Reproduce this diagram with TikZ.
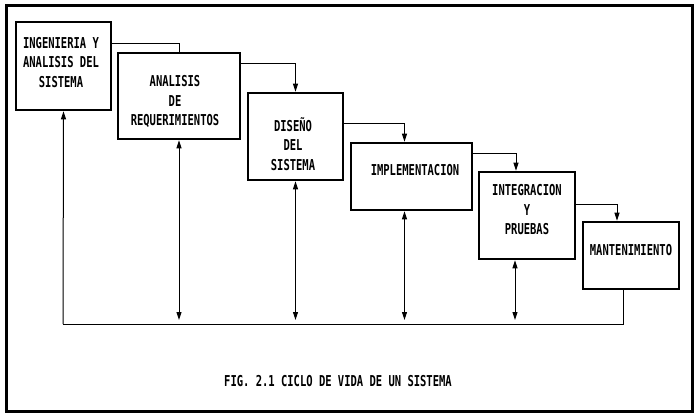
\documentclass[tikz,border=0pt]{standalone}
\usepackage{fontspec}
\newfontfamily\boxfont[FakeStretch=0.7]{DejaVu Sans Mono}
\usetikzlibrary{arrows.meta}
\begin{document}
\begin{tikzpicture}[x=1pt,y=-1pt,
  box/.style={draw, line width=2.6pt, inner sep=0pt},
  lbl/.style={font=\boxfont\bfseries\fontsize{15}{19.5}\selectfont, align=center, inner sep=0pt},
  conn/.style={line width=1pt},
  tip/.style={-{Triangle[length=8pt,width=5pt]}},
  both/.style={{Triangle[length=8pt,width=5pt]}-{Triangle[length=8pt,width=5pt]}}]
\useasboundingbox (0,0) rectangle (696,414);
\draw[line width=3pt] (6,6) rectangle (692,411);
% boxes
\node[box, minimum width=95pt, minimum height=88pt] (b1) at (63.5,66) {};
\node[box, minimum width=122pt, minimum height=86pt] (b2) at (179,96) {};
\node[box, minimum width=95pt, minimum height=87pt] (b3) at (295.5,136.5) {};
\node[box, minimum width=121pt, minimum height=67pt] (b4) at (411.5,176.5) {};
\node[box, minimum width=96pt, minimum height=87pt] (b5) at (527,215.5) {};
\node[box, minimum width=96pt, minimum height=67pt] (b6) at (631,255.5) {};
% labels
\node[lbl] (t1) at (61,62.5) {INGENIERIA Y\\ANALISIS DEL\\SISTEMA};
\node[lbl] (t2) at (175,101.5) {ANALISIS\\DE\\REQUERIMIENTOS};
\node[lbl] (t3) at (293,144) {DISEÑO\\DEL\\SISTEMA};
\node[lbl] (t4) at (415,170) {IMPLEMENTACION};
\node[lbl] (t5) at (527,210) {INTEGRACION\\Y\\PRUEBAS};
\node[lbl] (t6) at (631,250) {MANTENIMIENTO};
\node[lbl] (cap) at (338,381) {FIG. 2.1 CICLO DE VIDA DE UN SISTEMA};
% forward connectors
\draw[conn] ([yshift=-23pt]b1.north east) -| (b2.north);
\draw[conn,tip] ([yshift=-12pt]b2.north east) -| (b3.north);
\draw[conn,tip] ([yshift=-32pt]b3.north east) -| ([xshift=-7pt]b4.north);
\draw[conn,tip] ([yshift=-12pt]b4.north east) -| ([xshift=-11pt]b5.north);
\draw[conn,tip] ([yshift=-34pt]b5.north east) -| ([xshift=-14pt]b6.north);
% feedback
\coordinate (c0) at (63,324);
\draw[conn] ([xshift=-8pt]b6.south) |- (c0);
\draw[conn,tip] (c0) -- (b1.south);
\draw[conn,both,shorten >=4pt] (b2.south) -- (b2.south |- c0);
\draw[conn,both,shorten >=4pt] (b3.south) -- (b3.south |- c0);
\draw[conn,both,shorten >=4pt] ([xshift=-7pt]b4.south) -- ([xshift=-7pt]b4.south |- c0);
\draw[conn,both,shorten >=4pt] ([xshift=-12pt]b5.south) -- ([xshift=-12pt]b5.south |- c0);
\end{tikzpicture}
\end{document}
